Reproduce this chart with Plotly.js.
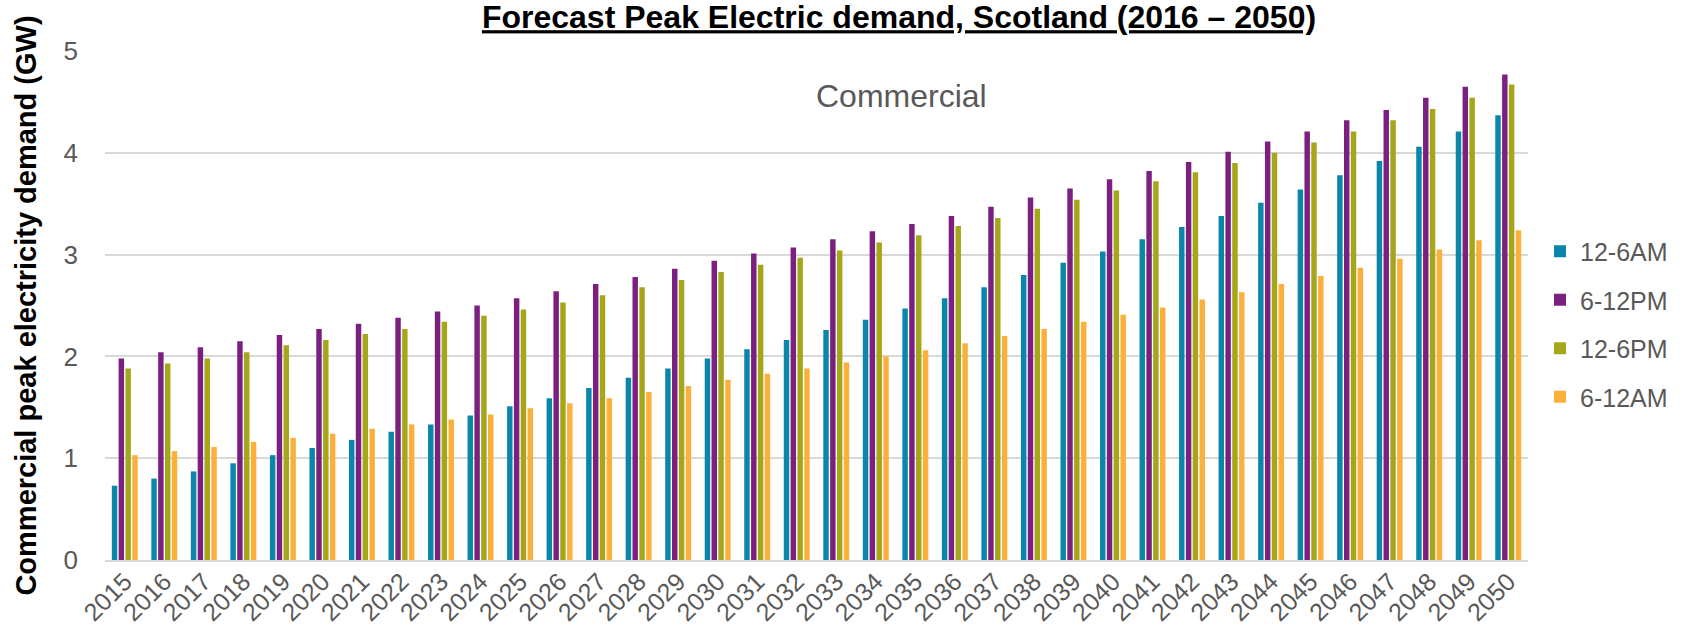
<!DOCTYPE html>
<html>
<head>
<meta charset="utf-8">
<script src="https://cdn.plot.ly/plotly-3.0.1.min.js"></script>
<style>
  html, body { margin: 0; padding: 0; background: #ffffff; }
  #chart { width: 1688px; height: 628px; }
</style>
</head>
<body>
<div id="chart"></div>
<script>
// Forecast commercial peak electricity demand (GW) by time-of-day band
const years = [2015, 2016, 2017, 2018, 2019, 2020, 2021, 2022, 2023, 2024, 2025, 2026,
  2027, 2028, 2029, 2030, 2031, 2032, 2033, 2034, 2035, 2036, 2037, 2038, 2039, 2040,
  2041, 2042, 2043, 2044, 2045, 2046, 2047, 2048, 2049, 2050];

const night = [0.73, 0.80, 0.87, 0.95, 1.03, 1.10, 1.18, 1.26, 1.33, 1.42, 1.51, 1.59,
  1.69, 1.79, 1.88, 1.98, 2.07, 2.16, 2.26, 2.36, 2.47, 2.57, 2.68, 2.80, 2.92, 3.03,
  3.15, 3.27, 3.38, 3.51, 3.64, 3.78, 3.92, 4.06, 4.21, 4.37];

const evening = [1.98, 2.04, 2.09, 2.15, 2.21, 2.27, 2.32, 2.38, 2.44, 2.50, 2.57, 2.64,
  2.71, 2.78, 2.86, 2.94, 3.01, 3.07, 3.15, 3.23, 3.30, 3.38, 3.47, 3.56, 3.65, 3.74,
  3.82, 3.91, 4.01, 4.11, 4.21, 4.32, 4.42, 4.54, 4.65, 4.77];

const afternoon = [1.88, 1.93, 1.98, 2.04, 2.11, 2.16, 2.22, 2.27, 2.34, 2.40, 2.46, 2.53,
  2.60, 2.68, 2.75, 2.83, 2.90, 2.97, 3.04, 3.12, 3.19, 3.28, 3.36, 3.45, 3.54, 3.63,
  3.72, 3.81, 3.90, 4.00, 4.10, 4.21, 4.32, 4.43, 4.54, 4.67];

const morning = [1.03, 1.07, 1.11, 1.16, 1.20, 1.24, 1.29, 1.33, 1.38, 1.43, 1.49, 1.54,
  1.59, 1.65, 1.71, 1.77, 1.83, 1.88, 1.94, 2.00, 2.06, 2.13, 2.20, 2.27, 2.34, 2.41,
  2.48, 2.56, 2.63, 2.71, 2.79, 2.87, 2.96, 3.05, 3.14, 3.24];

const seriesNames = ['12-6AM', '6-12PM', '12-6PM', '6-12AM'];
const seriesColors = ['#0A86AA', '#7B2080', '#A5A619', '#FBB03B'];
const yTicks = [0, 1, 2, 3, 4, 5];

const values = [night, evening, afternoon, morning];
const labels = years.map(String);

const traces = values.map((v, i) => ({
  type: 'bar',
  name: seriesNames[i],
  x: labels,
  y: v,
  legendgroup: 'g' + i,
  marker: { color: seriesColors[i], line: { width: 0 } },
  hoverinfo: 'x+y+name'
}));

const layout = {
  width: 1688,
  height: 628,
  paper_bgcolor: '#ffffff',
  plot_bgcolor: '#ffffff',
  font: { family: 'Liberation Sans, Arial, sans-serif', color: '#595959' },
  margin: { l: 105, r: 160, t: 51, b: 68, pad: 0 },
  barmode: 'group',
  bargap: 0.31,
  bargroupgap: 0.2,
  title: {
    text: '<b>Forecast Peak Electric demand, Scotland (2016 – 2050)</b>',
    font: { family: 'Liberation Sans, Arial, sans-serif', size: 32, color: '#000000', lineposition: 'under' },
    x: 899 / 1688,
    xanchor: 'center',
    xref: 'container',
    y: 1 - 17 / 628,
    yanchor: 'middle',
    yref: 'container'
  },
  xaxis: {
    type: 'category',
    tickangle: -45,
    tickfont: { size: 25, color: '#595959' },
    ticks: '',
    showgrid: false,
    showline: true,
    linecolor: '#D9D9D9',
    linewidth: 2,
    zeroline: false,
    automargin: false,
    ticklabelstandoff: -5
  },
  yaxis: {
    range: [0, 5],
    tickvals: yTicks,
    ticktext: yTicks.map(String),
    tickfont: { size: 26, color: '#595959' },
    ticks: '',
    showgrid: true,
    gridcolor: '#D9D9D9',
    gridwidth: 2,
    zeroline: false,
    showline: false,
    automargin: false,
    ticklabelstandoff: 26,
    title: {
      text: '<b>Commercial peak electricity demand (GW)</b>',
      font: { family: 'Liberation Sans, Arial, sans-serif', size: 29, color: '#000000' },
      standoff: 18
    }
  },
  showlegend: true,
  legend: {
    xref: 'container',
    yref: 'container',
    x: 1540 / 1688,
    xanchor: 'left',
    y: 1 - 324 / 628,
    yanchor: 'middle',
    traceorder: 'grouped',
    tracegroupgap: 13,
    font: { size: 25, color: '#595959' },
    bgcolor: 'rgba(0,0,0,0)',
    borderwidth: 0
  },
  annotations: [{
    text: 'Commercial',
    xref: 'paper',
    yref: 'paper',
    x: (901 - 105) / (1528 - 105),
    y: (560 - 96) / (560 - 51),
    xanchor: 'center',
    yanchor: 'middle',
    showarrow: false,
    font: { size: 32, color: '#595959' }
  }]
};

Plotly.newPlot('chart', traces, layout, { displayModeBar: false, staticPlot: true });
</script>
</body>
</html>
